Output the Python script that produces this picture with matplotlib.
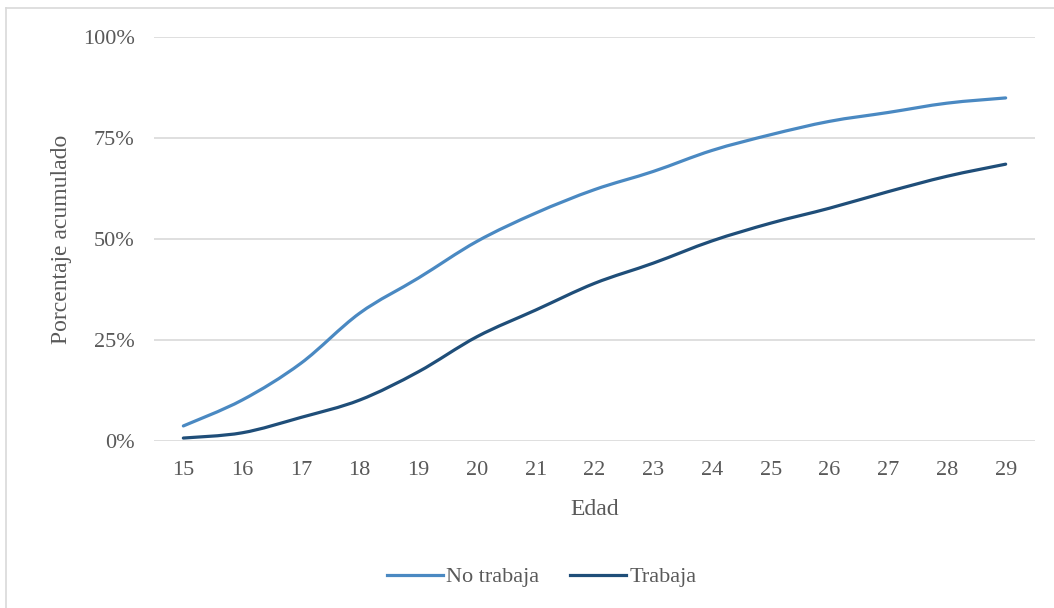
import matplotlib
matplotlib.use("Agg")
import matplotlib.pyplot as plt
import numpy as np
from matplotlib.lines import Line2D
from matplotlib.path import Path
from matplotlib.patches import PathPatch
from matplotlib.ticker import PercentFormatter

# cumulative share by age, split by work status
edades = [15, 16, 17, 18, 19, 20, 21, 22, 23, 24, 25, 26, 27, 28, 29]
no_trabaja = [3.8, 10.2, 19.3, 31.7, 40.4, 49.5, 56.5, 62.3, 66.8, 72.0, 75.9, 79.2, 81.4, 83.7, 85.0]
trabaja = [0.8, 2.1, 5.9, 10.2, 17.2, 25.9, 32.5, 39.1, 44.1, 49.6, 54.0, 57.7, 61.8, 65.6, 68.6]

TEXT = "#595959"
GRID = "#d9d9d9"
plt.rcParams['font.family'] = ['Liberation Serif', 'DejaVu Serif']


def smooth_path(x, y):
    # cubic bezier through every point, catmull-rom style tangents
    p = np.column_stack([x, y]).astype(float)
    ext = np.vstack([p[0], p, p[-1]])
    verts = [p[0]]
    codes = [Path.MOVETO]
    for i in range(len(p) - 1):
        c1 = ext[i + 1] + (ext[i + 2] - ext[i]) / 6
        c2 = ext[i + 2] - (ext[i + 3] - ext[i + 1]) / 6
        verts += [c1, c2, p[i + 1]]
        codes += [Path.CURVE4] * 3
    return Path(verts, codes)


fig = plt.figure(figsize=(10.54, 6.08), dpi=100)
ax = fig.add_axes([0.1461, 0.2742, 0.8359, 0.6644])

pos = list(range(len(edades)))
series = [("No trabaja", no_trabaja, "#4a89c2"), ("Trabaja", trabaja, "#1f4e79")]
handles = []
for name, vals, col in series:
    ax.add_patch(PathPatch(smooth_path(pos, vals), fill=False, edgecolor=col,
                           lw=2.3, capstyle="round"))
    handles.append(Line2D([], [], color=col, lw=2.3, label=name))

ax.set_xlim(-0.5, len(edades) - 0.5)
ax.set_ylim(0, 100)
ax.set_yticks([0, 25, 50, 75, 100])
ax.yaxis.set_major_formatter(PercentFormatter(decimals=0))
ax.set_xticks(pos)
ax.set_xticklabels([str(e) for e in edades])
ax.grid(axis="y", color=GRID, lw=1.2)
ax.set_axisbelow(True)
for s in ax.spines.values():
    s.set_visible(False)
ax.tick_params(length=0, labelsize=16, colors=TEXT)
ax.tick_params(axis="y", pad=14)
ax.tick_params(axis="x", pad=14)

ax.set_xlabel("Edad", fontsize=17, color=TEXT, labelpad=14)
ax.set_ylabel("Porcentaje acumulado", fontsize=17, color=TEXT, labelpad=8)

ax.legend(handles=handles, loc="center", bbox_to_anchor=(0.44, -0.336), ncol=2,
          frameon=False, fontsize=16, handlelength=2.5, handletextpad=0.15,
          columnspacing=1.4, labelcolor=TEXT)

# thin frame along the top and left edge
fig.add_artist(Line2D([0.006, 1.0], [0.987, 0.987], transform=fig.transFigure, color=GRID, lw=1.2))
fig.add_artist(Line2D([0.006, 0.006], [0.0, 0.987], transform=fig.transFigure, color=GRID, lw=1.2))

fig.savefig("out.png", dpi=100, facecolor="white")
